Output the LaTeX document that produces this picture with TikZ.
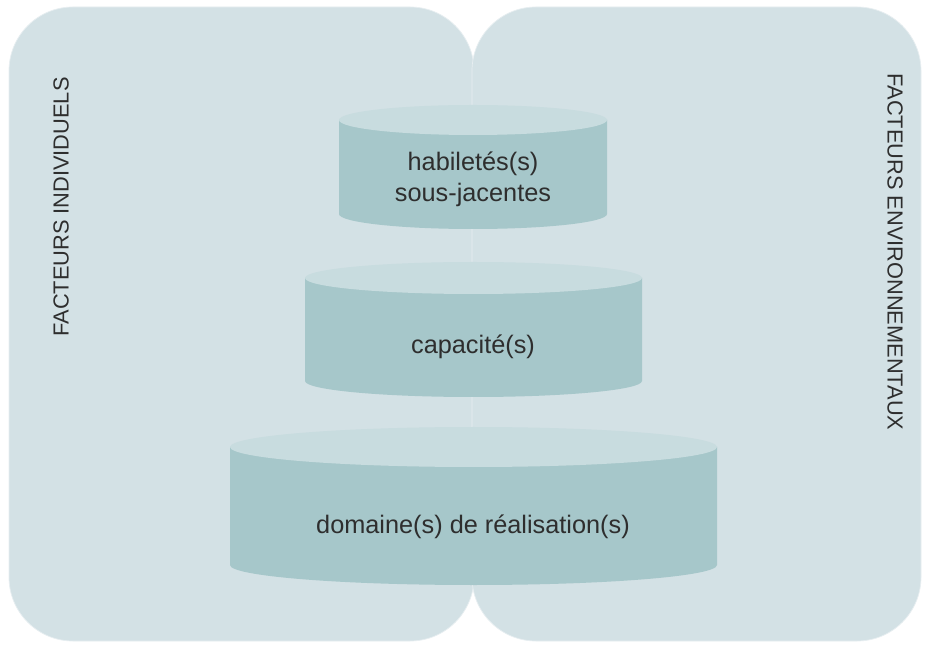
\documentclass[tikz,border=0pt]{standalone}
\usepackage{fontspec}
\setmainfont{Liberation Sans}
\definecolor{panel}{HTML}{D3E1E5}
\definecolor{cyltop}{HTML}{C8DCDF}
\definecolor{cylbody}{HTML}{A6C7CA}
\definecolor{ink}{HTML}{2E2E2E}
\begin{document}
\begin{tikzpicture}[x=1pt,y=1pt,
  panelbox/.style={fill=panel,draw=white!45!panel,line width=0.7pt,rounded corners=64pt},
  sidelabel/.style={text=ink,font=\fontsize{21.8}{26}\selectfont,inner sep=0pt},
  cyltext/.style={text=ink,font=\fontsize{25.3}{31}\selectfont,align=center,inner sep=0pt}]
\useasboundingbox (0,0) rectangle (928,648);
\fill[white] (0,0) rectangle (928,648);

% two side panels
\path[panelbox] (9,7) rectangle (474,641);
\path[panelbox] (472,7) rectangle (921,641);

% cylinder: #1 = centre x, #2 = half width, #3 = top centre y, #4 = bottom centre y, #5 = ellipse y radius
\newcommand{\stagecyl}[5]{%
  \fill[cylbody] (#1-#2,#3) -- (#1-#2,#4)
    arc[start angle=180,end angle=360,x radius=#2,y radius=#5] -- (#1+#2,#3) -- cycle;
  \fill[cyltop] (#1,#3) ellipse[x radius=#2,y radius=#5];
}
\stagecyl{473}{134}{528}{434}{15}
\stagecyl{473.5}{168.5}{370}{267}{16}
\stagecyl{473.5}{243.5}{201}{83}{20}

% labels
\node[cyltext] (hab) at (473,469) {habiletés(s)\\sous-jacentes};
\node[cyltext] (cap) at (473,301) {capacité(s)};
\node[cyltext] (dom) at (473,121) {domaine(s) de réalisation(s)};
\node[sidelabel,rotate=90] (indiv) at (61,441) {FACTEURS INDIVIDUELS};
\node[sidelabel,rotate=-90] (envir) at (895,396) {FACTEURS ENVIRONNEMENTAUX};
\end{tikzpicture}
\end{document}
